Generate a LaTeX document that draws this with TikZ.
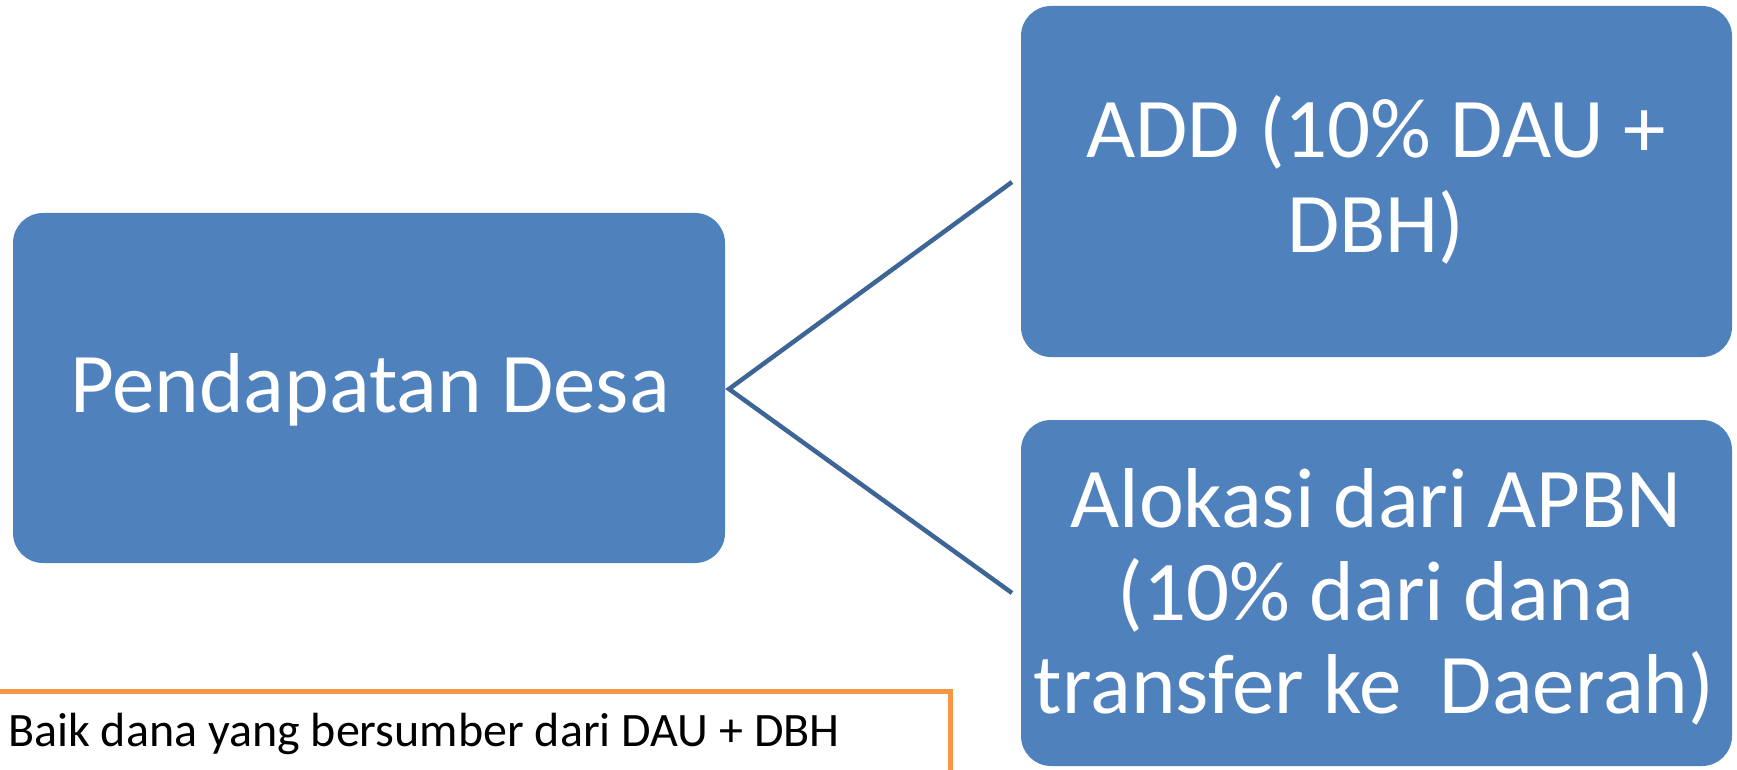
\documentclass[tikz,border=0pt]{standalone}
\usepackage{fontspec}
\setmainfont{Carlito}
\definecolor{boxblue}{RGB}{79,129,189}
\definecolor{linkblue}{RGB}{61,101,150}
\definecolor{noteorange}{RGB}{247,150,70}
\tikzset{
  bluebox/.style={fill=boxblue, draw=none, rounded corners=30pt, inner sep=0pt},
  bigtext/.style={text=white, anchor=base, inner sep=0pt, font=\fontsize{85}{94}\selectfont},
  link/.style={draw=linkblue, line width=4.5pt},
  notebox/.style={draw=noteorange, line width=5pt, fill=none, inner sep=0pt},
  notetext/.style={text=black, anchor=base west, inner sep=0pt, font=\fontsize{48}{58}\selectfont}
}
\begin{document}
\begin{tikzpicture}[x=1pt,y=-1pt]
\useasboundingbox (0,0) rectangle (1737,770);
\clip (0,0) rectangle (1737,770);
% boxes
\node[bluebox, minimum width=712pt, minimum height=350pt] (src) at (369,388) {};
\node[bluebox, minimum width=711pt, minimum height=351pt] (add) at (1376.5,181.5) {};
\node[bluebox, minimum width=711pt, minimum height=346pt] (apbn) at (1376.5,593) {};
% texts
\node[bigtext] (srct) at (370,412) {Pendapatan Desa};
\node[bigtext] (addt1) at (1376,158) {ADD (10\% DAU +};
\node[bigtext] (addt2) at (1376,252) {DBH)};
\node[bigtext] (apbnt1) at (1376,527) {Alokasi dari APBN};
\node[bigtext] (apbnt2) at (1376,620) {(10\% dari dana};
\node[bigtext] (apbnt3) at (1374,713) {transfer ke\ \ Daerah)};
% connectors
\coordinate (hub) at (729,389);
\coordinate (endadd) at (1012,182);
\coordinate (endapbn) at (1012,593);
\draw[link] (endadd) -- (hub) -- (endapbn);
% note box
\node[notebox, minimum width=980pt, minimum height=120pt] (note) at (460,751) {};
\node[notetext] (notet) at (8,746) {Baik dana yang bersumber dari DAU + DBH};
\end{tikzpicture}
\end{document}
